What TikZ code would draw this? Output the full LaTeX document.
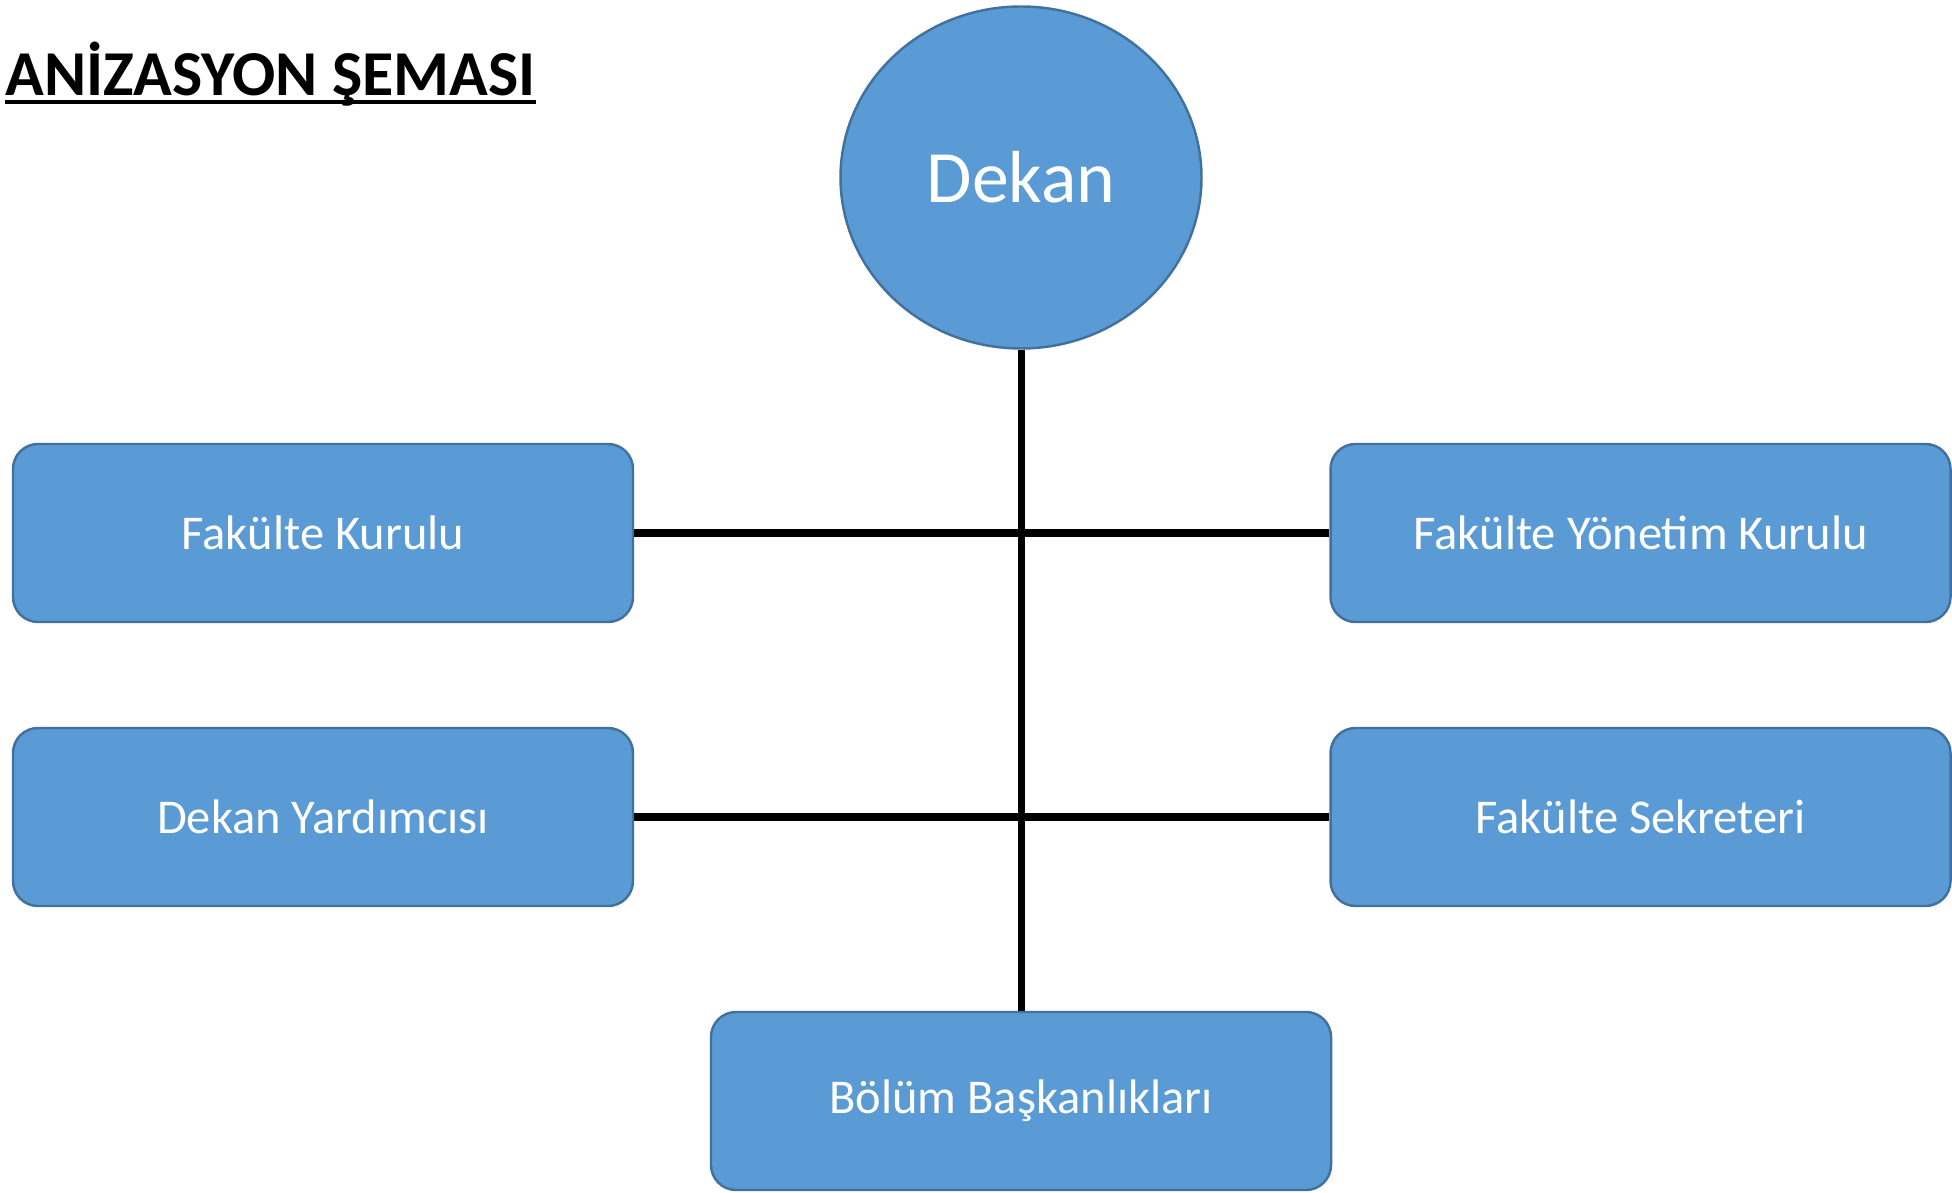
\documentclass[tikz,border=0pt]{standalone}
\usepackage{fontspec}
\setmainfont{Carlito}
\usepackage{tikz}
\usetikzlibrary{shapes, positioning}
\usetikzlibrary{calc}
\definecolor{boxfill}{HTML}{5B9BD5}
\definecolor{boxline}{HTML}{41719C}

\begin{document}
\begin{tikzpicture}[
		unit/.style={draw=boxline, line width=0.7pt, fill=boxfill, text=white, rounded corners=0.25cm, minimum width=6.2cm, minimum height=1.78cm, font=\fontsize{13.8}{16}\selectfont},
		head/.style={ellipse, draw=boxline, line width=0.7pt, fill=boxfill, text=white, minimum width=3.61cm, minimum height=3.42cm, font=\fontsize{21}{25}\selectfont},
		link/.style={line width=2pt}
	]
		\useasboundingbox (0,0) rectangle (19.52,-11.93);
		
		% Title
		\node [anchor=base west, inner sep=0pt, font=\bfseries\fontsize{18.2}{22}\selectfont] (title) at (0.05,-0.96) {ANİZASYON ŞEMASI};
		\draw[line width=1pt] ([yshift=-0.6mm]title.base west) -- ([yshift=-0.6mm]title.base east);
		
		% Nodes
		\node [head] (dekan) at (10.21,-1.775) {Dekan};
		\node [unit] (fk) at (3.23,-5.33) {Fakülte Kurulu};
		\node [unit] (fyk) at (16.405,-5.33) {Fakülte Yönetim Kurulu};
		\node [unit] (dy) at (3.23,-8.17) {Dekan Yardımcısı};
		\node [unit] (fs) at (16.405,-8.17) {Fakülte Sekreteri};
		\node [unit] (bb) at (10.21,-11.01) {Bölüm Başkanlıkları};
		
		% Connectors
		\draw[link] (dekan.south) -- (bb.north);
		\draw[link] (fk.east) -- (fyk.west);
		\draw[link] (dy.east) -- (fs.west);
	\end{tikzpicture}
\end{document}
